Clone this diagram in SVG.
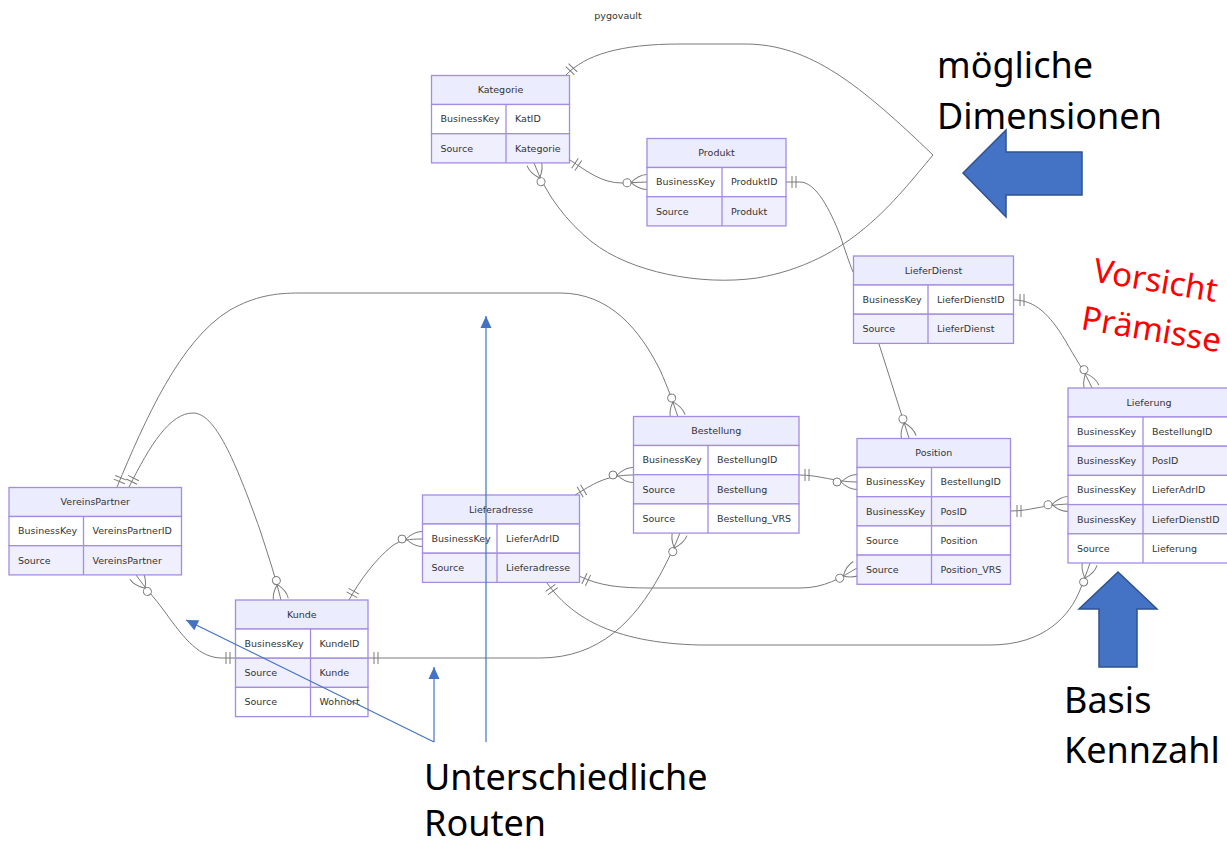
<svg xmlns="http://www.w3.org/2000/svg" width="1227" height="845" viewBox="0 0 1227 845">
  <style>
    .hd { fill: #ECECFF; stroke: #A48CE4; stroke-width: 1.3; }
    .ro { fill: #FFFFFF; stroke: #A48CE4; stroke-width: 1.3; }
    .re { fill: #F0EFFD; stroke: #A48CE4; stroke-width: 1.3; }
    .dv { stroke: #A48CE4; stroke-width: 1.3; }
    .t { font-family: "DejaVu Sans", "Liberation Sans", sans-serif; font-size: 9.5px; fill: #333; }
    .tc { text-anchor: middle; }
    .rel { fill: none; stroke: #7a7a7a; stroke-width: 1; }
    .note { font-family: "Noto Sans", "Open Sans", sans-serif; font-size: 36px; fill: #000; }
    .warn { font-family: "Noto Sans", "Open Sans", sans-serif; font-size: 33px; fill: #FF0000; }
    .bline { fill: none; stroke: #4472C4; stroke-width: 1.2; }
    .block { fill: #4472C4; stroke: #2F528F; stroke-width: 1.5; stroke-linejoin: miter; }
  </style>
  <defs>
    <!-- exactly one -->
    <marker id="one" markerUnits="userSpaceOnUse" orient="auto-start-reverse" overflow="visible" refX="0" refY="0" markerWidth="1" markerHeight="1">
      <path d="M-6,-6 V6 M-10,-6 V6" fill="none" stroke="#7a7a7a" stroke-width="1"/>
    </marker>
    <!-- zero or more -->
    <marker id="zmany" markerUnits="userSpaceOnUse" orient="auto-start-reverse" overflow="visible" refX="0" refY="0" markerWidth="1" markerHeight="1">
      <path d="M-16,0 Q-8,-7.5 0,-7.5 M-16,0 Q-8,7.5 0,7.5" fill="none" stroke="#7a7a7a" stroke-width="1"/>
      <circle cx="-20" cy="0" r="4" fill="#fff" stroke="#7a7a7a" stroke-width="1"/>
    </marker>
    <!-- annotation arrow tip -->
    <marker id="tip" markerUnits="userSpaceOnUse" orient="auto" overflow="visible" refX="0" refY="0" markerWidth="1" markerHeight="1">
      <path d="M0,0 L-12,-5.5 L-12,5.5 Z" fill="#4472C4"/>
    </marker>
  </defs>

  <rect width="1227" height="845" fill="#fff"/>

  <text class="t tc" x="618" y="19">pygovault</text>

  <!-- relationships -->
  <g id="connectors">
    <!-- Kategorie self reference -->
    <path class="rel" marker-start="url(#one)" marker-end="url(#zmany)" d="M566,75 C585,55 620,44 680,44 L745,44 C810,44 860,85 933,155 C895,200 850,262 757,278 C700,286 630,272 592,242 C567,222 546,195 534,163"/>
    <!-- Kategorie - Produkt -->
    <path class="rel" marker-start="url(#one)" marker-end="url(#zmany)" d="M570,160 C588,172 602,183 622,183 L647,182"/>
    <!-- Produkt - LieferDienst -->
    <path class="rel" marker-start="url(#one)" d="M786,182 L800,182 C816,182 830,210 840,235 C845,250 849,262 853,272"/>
    <!-- LieferDienst - Lieferung -->
    <path class="rel" marker-start="url(#one)" marker-end="url(#zmany)" d="M1014,300 C1035,300 1050,315 1065,340 C1075,358 1085,372 1092,388"/>
    <!-- LieferDienst - Position -->
    <path class="rel" marker-end="url(#zmany)" d="M879,344 L909,438"/>
    <!-- Position - Lieferung -->
    <path class="rel" marker-start="url(#one)" marker-end="url(#zmany)" d="M1011,511 C1030,511 1042,505 1068,504"/>
    <!-- Bestellung - Position -->
    <path class="rel" marker-start="url(#one)" marker-end="url(#zmany)" d="M799,475 C820,475 835,482 857,482"/>
    <!-- Lieferadresse - Bestellung -->
    <path class="rel" marker-start="url(#one)" marker-end="url(#zmany)" d="M575,495 C592,485 605,475 633,475"/>
    <!-- Kunde - Bestellung -->
    <path class="rel" marker-start="url(#one)" marker-end="url(#zmany)" d="M368,658 L540,658 C600,658 635,620 660,575 C668,560 675,546 680,533"/>
    <!-- Kunde - VereinsPartner -->
    <path class="rel" marker-start="url(#one)" marker-end="url(#zmany)" d="M236,658 L222,658 C200,658 185,640 165,612 C155,598 145,588 136,575"/>
    <!-- Kunde - Lieferadresse -->
    <path class="rel" marker-start="url(#one)" marker-end="url(#zmany)" d="M349,600 C360,580 375,560 392,546 C400,540 410,539 422,539"/>
    <!-- VereinsPartner - Bestellung -->
    <path class="rel" marker-start="url(#one)" marker-end="url(#zmany)" d="M117,487 C145,420 180,340 230,310 C255,296 275,293 300,293 L560,293 C610,293 640,330 660,370 C668,388 673,402 678,417"/>
    <!-- VereinsPartner - Kunde -->
    <path class="rel" marker-start="url(#one)" marker-end="url(#zmany)" d="M129,487 C150,445 170,413 193,413 C215,413 235,460 260,530 C268,555 275,575 281,600"/>
    <!-- Lieferadresse - Position -->
    <path class="rel" marker-start="url(#one)" marker-end="url(#zmany)" d="M579,576 C600,586 620,588 650,588 L800,588 C825,588 840,578 857,568"/>
    <!-- Lieferadresse - Lieferung -->
    <path class="rel" marker-start="url(#one)" marker-end="url(#zmany)" d="M547,583 C570,615 610,643 700,645 L990,645 C1045,645 1070,615 1080,590 C1084,580 1087,572 1090,563"/>
  </g>

  <!-- entities -->
  <g id="kategorie">
    <rect class="hd" x="431.5" y="75.5" width="138" height="29"/>
    <rect class="ro" x="431.5" y="104.5" width="138" height="29.2"/>
    <rect class="re" x="431.5" y="133.7" width="138" height="29.2"/>
    <line class="dv" x1="506" y1="104.5" x2="506" y2="162.9"/>
    <text class="t tc" x="500.5" y="93.3">Kategorie</text>
    <text class="t" x="440.5" y="122.4">BusinessKey</text>
    <text class="t" x="515" y="122.4">KatID</text>
    <text class="t" x="440.5" y="151.6">Source</text>
    <text class="t" x="515" y="151.6">Kategorie</text>
  </g>

  <g id="produkt">
    <rect class="hd" x="647" y="138.5" width="139" height="29"/>
    <rect class="ro" x="647" y="167.5" width="139" height="29.2"/>
    <rect class="re" x="647" y="196.7" width="139" height="29.2"/>
    <line class="dv" x1="722" y1="167.5" x2="722" y2="225.9"/>
    <text class="t tc" x="716.5" y="156.3">Produkt</text>
    <text class="t" x="656" y="185.4">BusinessKey</text>
    <text class="t" x="731" y="185.4">ProduktID</text>
    <text class="t" x="656" y="214.6">Source</text>
    <text class="t" x="731" y="214.6">Produkt</text>
  </g>

  <g id="lieferdienst">
    <rect class="hd" x="853.5" y="256" width="160" height="29"/>
    <rect class="ro" x="853.5" y="285" width="160" height="29.2"/>
    <rect class="re" x="853.5" y="314.2" width="160" height="29.2"/>
    <line class="dv" x1="928" y1="285" x2="928" y2="343.4"/>
    <text class="t tc" x="933.5" y="273.8">LieferDienst</text>
    <text class="t" x="862.5" y="302.9">BusinessKey</text>
    <text class="t" x="937" y="302.9">LieferDienstID</text>
    <text class="t" x="862.5" y="332.1">Source</text>
    <text class="t" x="937" y="332.1">LieferDienst</text>
  </g>

  <g id="position">
    <rect class="hd" x="857" y="438.5" width="153.5" height="29"/>
    <rect class="ro" x="857" y="467.5" width="153.5" height="29.2"/>
    <rect class="re" x="857" y="496.7" width="153.5" height="29.2"/>
    <rect class="ro" x="857" y="525.9" width="153.5" height="29.2"/>
    <rect class="re" x="857" y="555.1" width="153.5" height="29.2"/>
    <line class="dv" x1="931.5" y1="467.5" x2="931.5" y2="584.3"/>
    <text class="t tc" x="933.75" y="456.3">Position</text>
    <text class="t" x="866" y="485.4">BusinessKey</text>
    <text class="t" x="940.5" y="485.4">BestellungID</text>
    <text class="t" x="866" y="514.6">BusinessKey</text>
    <text class="t" x="940.5" y="514.6">PosID</text>
    <text class="t" x="866" y="543.8">Source</text>
    <text class="t" x="940.5" y="543.8">Position</text>
    <text class="t" x="866" y="573">Source</text>
    <text class="t" x="940.5" y="573">Position_VRS</text>
  </g>

  <g id="lieferung">
    <rect class="hd" x="1068" y="388" width="162" height="29"/>
    <rect class="ro" x="1068" y="417" width="162" height="29.2"/>
    <rect class="re" x="1068" y="446.2" width="162" height="29.2"/>
    <rect class="ro" x="1068" y="475.4" width="162" height="29.2"/>
    <rect class="re" x="1068" y="504.6" width="162" height="29.2"/>
    <rect class="ro" x="1068" y="533.8" width="162" height="29.2"/>
    <line class="dv" x1="1143" y1="417" x2="1143" y2="563"/>
    <text class="t tc" x="1149" y="405.8">Lieferung</text>
    <text class="t" x="1077" y="434.9">BusinessKey</text>
    <text class="t" x="1152" y="434.9">BestellungID</text>
    <text class="t" x="1077" y="464.1">BusinessKey</text>
    <text class="t" x="1152" y="464.1">PosID</text>
    <text class="t" x="1077" y="493.3">BusinessKey</text>
    <text class="t" x="1152" y="493.3">LieferAdrID</text>
    <text class="t" x="1077" y="522.5">BusinessKey</text>
    <text class="t" x="1152" y="522.5">LieferDienstID</text>
    <text class="t" x="1077" y="551.7">Source</text>
    <text class="t" x="1152" y="551.7">Lieferung</text>
  </g>

  <g id="vereinspartner">
    <rect class="hd" x="9" y="487.5" width="172.5" height="29"/>
    <rect class="ro" x="9" y="516.5" width="172.5" height="29.2"/>
    <rect class="re" x="9" y="545.7" width="172.5" height="29.2"/>
    <line class="dv" x1="83.5" y1="516.5" x2="83.5" y2="574.9"/>
    <text class="t tc" x="95.25" y="505.3">VereinsPartner</text>
    <text class="t" x="18" y="534.4">BusinessKey</text>
    <text class="t" x="92.5" y="534.4">VereinsPartnerID</text>
    <text class="t" x="18" y="563.6">Source</text>
    <text class="t" x="92.5" y="563.6">VereinsPartner</text>
  </g>

  <g id="kunde">
    <rect class="hd" x="235.5" y="600" width="132.5" height="29"/>
    <rect class="ro" x="235.5" y="629" width="132.5" height="29.2"/>
    <rect class="re" x="235.5" y="658.2" width="132.5" height="29.2"/>
    <rect class="ro" x="235.5" y="687.4" width="132.5" height="29.2"/>
    <line class="dv" x1="310.5" y1="629" x2="310.5" y2="716.6"/>
    <text class="t tc" x="301.75" y="617.8">Kunde</text>
    <text class="t" x="244.5" y="646.9">BusinessKey</text>
    <text class="t" x="319.5" y="646.9">KundeID</text>
    <text class="t" x="244.5" y="676.1">Source</text>
    <text class="t" x="319.5" y="676.1">Kunde</text>
    <text class="t" x="244.5" y="705.3">Source</text>
    <text class="t" x="319.5" y="705.3">Wohnort</text>
  </g>

  <g id="lieferadresse">
    <rect class="hd" x="422.5" y="495" width="157" height="29"/>
    <rect class="ro" x="422.5" y="524" width="157" height="29.2"/>
    <rect class="re" x="422.5" y="553.2" width="157" height="29.2"/>
    <line class="dv" x1="497" y1="524" x2="497" y2="582.4"/>
    <text class="t tc" x="501" y="512.8">Lieferadresse</text>
    <text class="t" x="431.5" y="541.9">BusinessKey</text>
    <text class="t" x="506" y="541.9">LieferAdrID</text>
    <text class="t" x="431.5" y="571.1">Source</text>
    <text class="t" x="506" y="571.1">Lieferadresse</text>
  </g>

  <g id="bestellung">
    <rect class="hd" x="633.5" y="416.5" width="165.5" height="29"/>
    <rect class="ro" x="633.5" y="445.5" width="165.5" height="29.2"/>
    <rect class="re" x="633.5" y="474.7" width="165.5" height="29.2"/>
    <rect class="ro" x="633.5" y="503.9" width="165.5" height="29.2"/>
    <line class="dv" x1="708" y1="445.5" x2="708" y2="533.1"/>
    <text class="t tc" x="716.25" y="434.3">Bestellung</text>
    <text class="t" x="642.5" y="463.4">BusinessKey</text>
    <text class="t" x="717" y="463.4">BestellungID</text>
    <text class="t" x="642.5" y="492.6">Source</text>
    <text class="t" x="717" y="492.6">Bestellung</text>
    <text class="t" x="642.5" y="521.8">Source</text>
    <text class="t" x="717" y="521.8">Bestellung_VRS</text>
  </g>

  <!-- annotations -->
  <g id="note-dimensionen">
    <text class="note" x="937" y="78">mögliche</text>
    <text class="note" x="937" y="129">Dimensionen</text>
    <polygon class="block" points="963,173 1006,130 1006,152 1082,152 1082,195 1006,195 1006,217"/>
  </g>

  <g id="note-vorsicht" transform="translate(1090,281) rotate(9.5)">
    <text class="warn" x="2" y="0">Vorsicht</text>
    <text class="warn" x="-2" y="49">Prämisse</text>
  </g>

  <g id="note-kennzahl">
    <polygon class="block" points="1118,572 1157,609 1137,609 1137,667 1099,667 1099,609 1079,609"/>
    <text class="note" x="1064" y="713">Basis</text>
    <text class="note" x="1064" y="763">Kennzahl</text>
  </g>

  <g id="note-routen">
    <line class="bline" x1="486" y1="742" x2="486" y2="316" marker-end="url(#tip)"/>
    <line class="bline" x1="434" y1="742" x2="434" y2="667" marker-end="url(#tip)"/>
    <line class="bline" x1="434" y1="742" x2="186" y2="620" marker-end="url(#tip)"/>
    <text class="note" x="424" y="790">Unterschiedliche</text>
    <text class="note" x="424" y="836">Routen</text>
  </g>
</svg>
